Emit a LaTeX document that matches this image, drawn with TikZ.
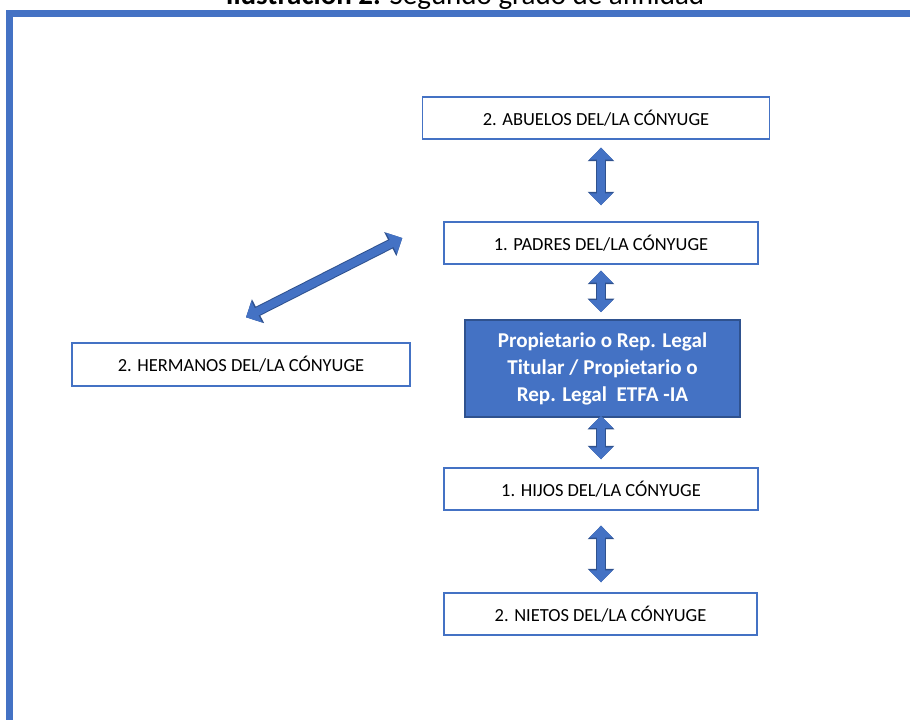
\documentclass[tikz,border=0pt]{standalone}
\usepackage{fontspec}
\setmainfont{Carlito}
\usepackage[HTML]{xcolor}
\usepackage{tikz}
\usetikzlibrary{positioning, arrows.meta}
\definecolor{boxblue}{HTML}{4472C4}
\definecolor{edgeblue}{HTML}{2F528F}

\begin{document}
\begin{tikzpicture}[every node/.style={font=\fontsize{10.5}{12}\selectfont},
  kin/.style={draw=boxblue, line width=0.8pt, fill=white, minimum height=0.84cm, inner sep=0pt},
  link/.style={line width=0.16cm, draw=boxblue,
    {Triangle[length=0.24cm,width=0.46cm]}-{Triangle[length=0.24cm,width=0.46cm]},
    preaction={draw=edgeblue, line width=0.2cm, {Triangle[length=0.27cm,width=0.52cm]}-{Triangle[length=0.27cm,width=0.52cm]}}}]
\useasboundingbox (0,0) rectangle (18.2,14.4);
\draw[boxblue, line width=0.14cm] (18.6,-0.4) -- (0.19,-0.4) -- (0.19,14.13) -- (18.6,14.13);
\node[anchor=base, font=\fontsize{16.5}{19}\selectfont] (title) at (9.3,14.3) {\textbf{Ilustración 2.} Segundo grado de afinidad};
\node[kin, minimum width=6.94cm] (abuelos) at (11.92,12.04) {2. ABUELOS DEL/LA CÓNYUGE};
\node[kin, minimum width=6.28cm] (padres) at (12.02,9.54) {1. PADRES DEL/LA CÓNYUGE};
\node[draw=edgeblue, line width=1pt, fill=boxblue, text=white, minimum width=5.5cm, minimum height=1.94cm, align=center,
  font=\bfseries\fontsize{12}{15.4}\selectfont] (prop) at (12.05,7.03) {Propietario o Rep. Legal\\Titular / Propietario o\\Rep. Legal\ \ ETFA -IA};
\node[kin, minimum width=6.76cm, minimum height=0.86cm] (hermanos) at (4.82,7.11) {2. HERMANOS DEL/LA CÓNYUGE};
\node[kin, minimum width=6.28cm] (hijos) at (12.02,4.62) {1. HIJOS DEL/LA CÓNYUGE};
\node[kin, minimum width=6.26cm] (nietos) at (12.01,2.12) {2. NIETOS DEL/LA CÓNYUGE};
\draw[link] ([yshift=-0.16cm]padres.north |- abuelos.south) -- ([yshift=0.32cm]padres.north);
\draw[link] ([yshift=-0.12cm]padres.south) -- ([yshift=0.14cm]prop.north -| padres.south);
\draw[link] ([yshift=0.04cm]hijos.north |- prop.south) -- ([yshift=0.16cm]hijos.north);
\draw[link] ([yshift=-0.3cm]hijos.south) -- ([yshift=0.2cm]nietos.north -| hijos.south);
\draw[link] ([shift={(-0.82,0.1)}]padres.west) -- ([shift={(0.1,0.5)}]hermanos.north);
\end{tikzpicture}
\end{document}
